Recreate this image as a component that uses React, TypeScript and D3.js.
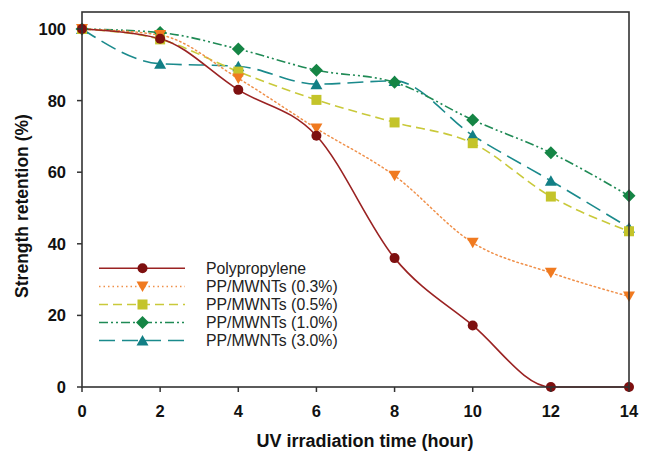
import React from "react";
import * as d3 from "d3";

const hours = [0, 2, 4, 6, 8, 10, 12, 14];
const seriesNames = ["Polypropylene", "PP/MWNTs (0.3%)", "PP/MWNTs (0.5%)", "PP/MWNTs (1.0%)", "PP/MWNTs (3.0%)"];
const pp = [100, 97.3, 83, 70.2, 36, 17.2, 0, 0];
const mw03 = [100, 98.3, 86.2, 72.2, 59, 40.3, 31.9, 25.3];
const mw05 = [100, 97.1, 88.1, 80.2, 73.9, 68.1, 53.2, 43.5];
const mw10 = [100, 99, 94.4, 88.5, 85.1, 74.6, 65.4, 53.4];
const mw30 = [100, 90.3, 89.6, 84.6, 85.5, 70.3, 57.6, 44.5];
const xTicks = [0, 2, 4, 6, 8, 10, 12, 14];
const yTicks = [0, 20, 40, 60, 80, 100];

const styles = [
  { line: "#9a2222", fill: "#7e1010", dash: "", shape: "circle", w: 1.6 },
  { line: "#f0904a", fill: "#f07a20", dash: "1.5,3", shape: "tri", w: 1.5 },
  { line: "#c9c93a", fill: "#c4c42a", dash: "9,5", shape: "square", w: 1.6 },
  { line: "#1f8a55", fill: "#158545", dash: "9,3,2,3,2,3", shape: "diamond", w: 1.6 },
  { line: "#1a8a8c", fill: "#127f85", dash: "16,7", shape: "triup", w: 1.6 },
];

function Marker({ shape, x, y, fill }: { shape: string; x: number; y: number; fill: string }) {
  if (shape === "circle") return <circle cx={x} cy={y} r={5} fill={fill} />;
  if (shape === "square") return <rect x={x - 5} y={y - 5} width={10} height={10} fill={fill} />;
  if (shape === "diamond")
    return <path d={`M${x},${y - 6.5}L${x + 6.5},${y}L${x},${y + 6.5}L${x - 6.5},${y}Z`} fill={fill} />;
  if (shape === "tri") return <path d={`M${x - 6},${y - 5}L${x + 6},${y - 5}L${x},${y + 5.5}Z`} fill={fill} />;
  return <path d={`M${x - 6},${y + 5}L${x + 6},${y + 5}L${x},${y - 5.5}Z`} fill={fill} />;
}

export default function App() {
  const W = 647, H = 454;
  const left = 82, right = 629, top = 12, bottom = 387;
  const x = d3.scaleLinear().domain([0, 14]).range([left, right]);
  const y = d3.scaleLinear().domain([0, 100]).range([bottom, 29]);
  const all = [pp, mw03, mw05, mw10, mw30];
  const line = d3
    .line<number>()
    .x((_, i) => x(hours[i]))
    .y((d) => y(d))
    .curve(d3.curveMonotoneX);
  const font = "Liberation Sans, Arial, sans-serif";
  const order = [4, 3, 2, 1, 0];
  const legendY = [268.3, 286.5, 304.5, 322.5, 340.5];
  return (
    <svg width={W} height={H} style={{ position: "absolute", left: 0, top: 0, background: "#fff" }} fontFamily={font}>
      <rect x={0} y={0} width={W} height={H} fill="#fff" />
      {order.map((si) => (
        <path key={"l" + si} d={line(all[si]) || ""} fill="none" stroke={styles[si].line}
          strokeWidth={styles[si].w} strokeDasharray={styles[si].dash} strokeLinecap={si === 1 ? "round" : "butt"} />
      ))}
      {order.map((si) =>
        all[si].map((v, i) => (
          <Marker key={"m" + si + "-" + i} shape={styles[si].shape} x={x(hours[i])} y={y(v)} fill={styles[si].fill} />
        ))
      )}
      <rect x={left} y={top} width={right - left} height={bottom - top} fill="none" stroke="#333" strokeWidth={1.6} />
      {xTicks.map((t) => (
        <g key={"xt" + t}>
          <line x1={x(t)} x2={x(t)} y1={bottom} y2={bottom + 5} stroke="#333" strokeWidth={1.5} />
          <text x={x(t)} y={417} textAnchor="middle" fontSize={16.5} fontWeight="bold" fill="#111">{t}</text>
        </g>
      ))}
      {yTicks.map((t) => (
        <g key={"yt" + t}>
          <line x1={left - 5} x2={left} y1={y(t)} y2={y(t)} stroke="#333" strokeWidth={1.5} />
          <text x={66} y={y(t) + 6} textAnchor="end" fontSize={16.5} fontWeight="bold" fill="#111">{t}</text>
        </g>
      ))}
      <text x={365} y={447} textAnchor="middle" fontSize={18} fontWeight="bold" fill="#111">UV irradiation time (hour)</text>
      <text transform={`translate(28,206) rotate(-90)`} textAnchor="middle" fontSize={17.5} fontWeight="bold" fill="#111">Strength retention (%)</text>
      {seriesNames.map((n, si) => (
        <g key={"lg" + si}>
          <line x1={99} x2={185} y1={legendY[si]} y2={legendY[si]} stroke={styles[si].line} strokeWidth={styles[si].w}
            strokeDasharray={styles[si].dash} />
          <Marker shape={styles[si].shape} x={142.5} y={legendY[si]} fill={styles[si].fill} />
          <text x={206} y={legendY[si] + 5.5} fontSize={15.8} fill="#222">{n}</text>
        </g>
      ))}
    </svg>
  );
}
